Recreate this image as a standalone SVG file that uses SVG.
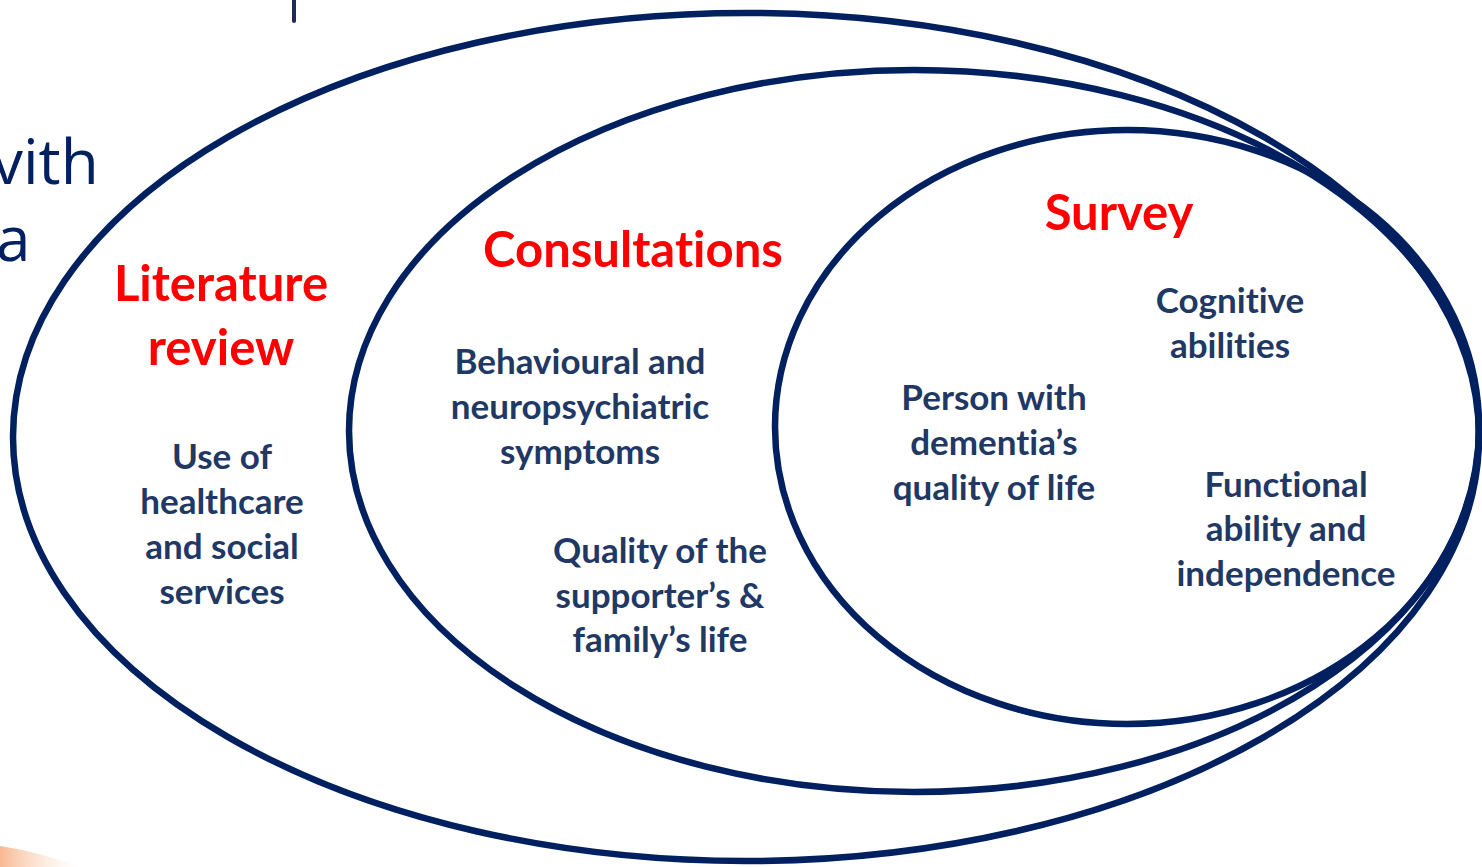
<svg xmlns="http://www.w3.org/2000/svg" width="1482" height="867" viewBox="0 0 1482 867">
<defs>
<style>
.ring{fill:none;stroke:#002060;stroke-width:6.5}
.title{font-family:Lato,"Open Sans",sans-serif;font-weight:bold;font-size:49px;fill:#FF0000;text-anchor:middle;font-variant-ligatures:none}
.body{font-family:Lato,"Open Sans",sans-serif;font-weight:bold;font-size:35px;fill:#1F3864;text-anchor:middle;font-variant-ligatures:none}
.side{font-family:"Open Sans",sans-serif;font-size:62px;fill:#002060}
</style>
<linearGradient id="peach" x1="0" y1="0" x2="1" y2="0">
<stop offset="0" stop-color="#F8B890"/>
<stop offset="1" stop-color="#FDE6D8" stop-opacity="0"/>
</linearGradient>
</defs>
<rect width="1482" height="867" fill="#FFFFFF"/>
<g id="background">
<line x1="294" y1="0" x2="294" y2="21" stroke="#1F2A5A" stroke-width="4" stroke-linecap="round"/>
<text class="side" x="-8" y="184">vith</text>
<text class="side" x="-4" y="261">a</text>
<path d="M0,846 Q40,852 80,867 L0,867 Z" fill="url(#peach)"/>
</g>
<g id="connectors"></g>
<g id="literature-review">
<ellipse class="ring" cx="746" cy="437" rx="733" ry="424"/>
<text class="title" x="221" y="301">Literature</text>
<text class="title" x="221" y="365">review</text>
<text class="body" x="222" y="469">Use of</text>
<text class="body" x="222" y="514">healthcare</text>
<text class="body" x="222" y="559">and social</text>
<text class="body" x="222" y="604">services</text>
</g>
<g id="consultations">
<ellipse class="ring" cx="914" cy="431" rx="565" ry="361"/>
<text class="title" x="633" y="267">Consultations</text>
<text class="body" x="580" y="374">Behavioural and</text>
<text class="body" x="580" y="419">neuropsychiatric</text>
<text class="body" x="580" y="464">symptoms</text>
<text class="body" x="660" y="563">Quality of the</text>
<text class="body" x="660" y="608">supporter’s &amp;</text>
<text class="body" x="660" y="652">family’s life</text>
</g>
<g id="survey">
<ellipse class="ring" cx="1127" cy="427" rx="352" ry="297"/>
<text class="title" x="1119" y="230">Survey</text>
<text class="body" x="1230" y="313">Cognitive</text>
<text class="body" x="1230" y="358">abilities</text>
<text class="body" x="994" y="410">Person with</text>
<text class="body" x="994" y="455">dementia’s</text>
<text class="body" x="994" y="500">quality of life</text>
<text class="body" x="1286" y="497">Functional</text>
<text class="body" x="1286" y="541">ability and</text>
<text class="body" x="1286" y="586">independence</text>
</g>
</svg>
